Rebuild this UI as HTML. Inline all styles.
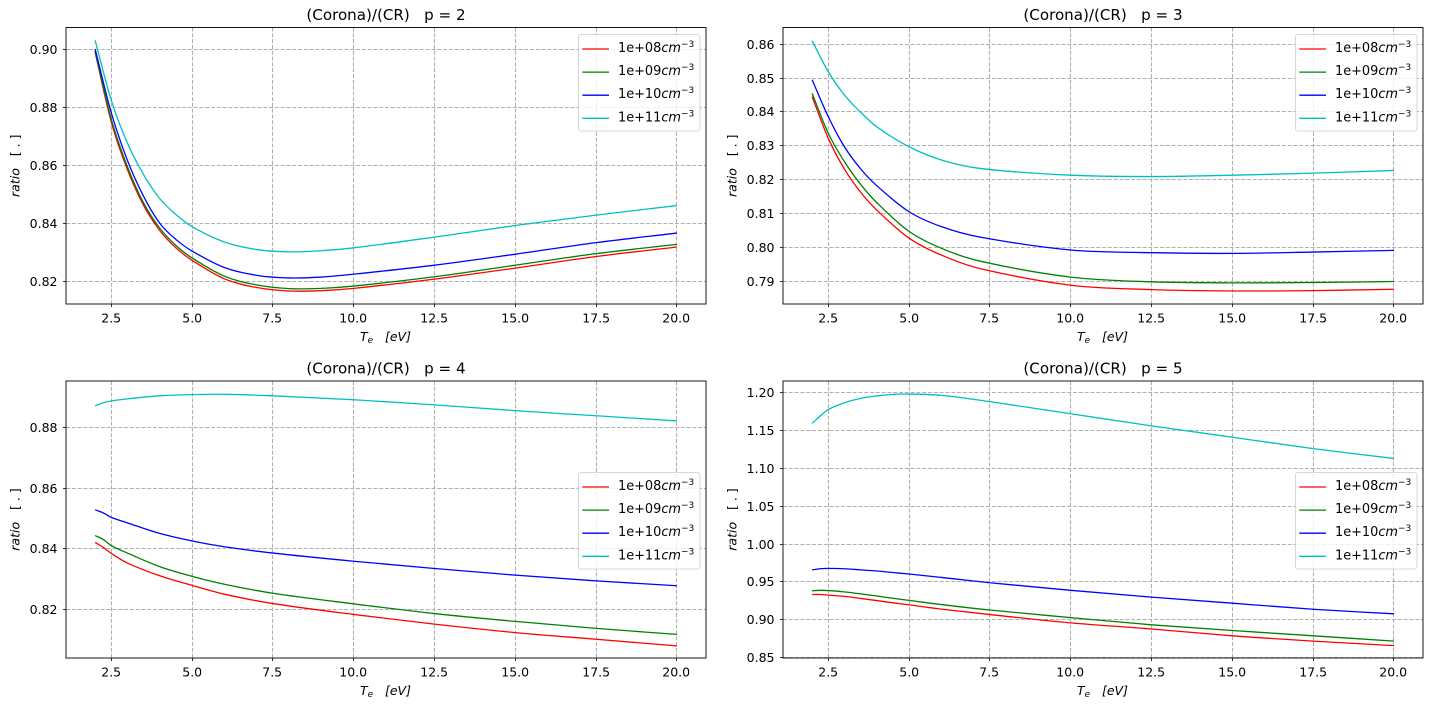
<!DOCTYPE html>
<html>
<head>
<meta charset="utf-8">
<title>(Corona)/(CR) ratio</title>
<style>
html,body{margin:0;padding:0;background:#fff;}
svg{display:block;font-family:"DejaVu Sans","Liberation Sans",sans-serif;}
svg text{white-space:pre;}
</style>
</head>
<body>
<svg id="figure" width="1435" height="709" viewBox="0 0 1435 709" xmlns="http://www.w3.org/2000/svg"></svg>
<script>
const xTicks = [2.5, 5, 7.5, 10, 12.5, 15, 17.5, 20];
const densityLabels = ['1e+08', '1e+09', '1e+10', '1e+11'];
const seriesNames = ['red', 'green', 'blue', 'cyan'];

const p2Te = [2, 2.5, 3, 3.5, 4, 4.5, 5, 6, 7, 8, 9, 10, 12.5, 15, 17.5, 20];
const p2Red = [0.899, 0.875, 0.8585, 0.8462, 0.8375, 0.8315, 0.8272, 0.8208, 0.8178, 0.8166, 0.8167, 0.8175, 0.8207, 0.8245, 0.8285, 0.8318];
const p2Green = [0.8995, 0.876, 0.8595, 0.847, 0.8383, 0.8323, 0.828, 0.8217, 0.8187, 0.8174, 0.8175, 0.8183, 0.8215, 0.8255, 0.8295, 0.8327];
const p2Blue = [0.9002, 0.8782, 0.8617, 0.8493, 0.84, 0.8344, 0.8304, 0.8247, 0.822, 0.8211, 0.8214, 0.8224, 0.8255, 0.8293, 0.8333, 0.8366];
const p2Cyan = [0.9032, 0.8825, 0.8677, 0.8568, 0.8485, 0.843, 0.8388, 0.8335, 0.8309, 0.8301, 0.8305, 0.8315, 0.8352, 0.8392, 0.8428, 0.8461];
const p2Ticks = [0.82, 0.84, 0.86, 0.88, 0.9];

const p3Te = [2, 2.5, 3, 3.5, 4, 5, 6, 7.2, 10, 12.5, 15, 17.5, 20];
const p3Red = [0.8445, 0.8322, 0.8231, 0.8163, 0.811, 0.8027, 0.7977, 0.7937, 0.7888, 0.7875, 0.7871, 0.7872, 0.7876];
const p3Green = [0.8455, 0.8337, 0.8253, 0.8186, 0.8132, 0.8047, 0.7997, 0.7959, 0.7912, 0.7898, 0.7895, 0.7896, 0.7899];
const p3Blue = [0.8495, 0.8386, 0.8297, 0.8232, 0.8182, 0.8105, 0.8061, 0.803, 0.7992, 0.7984, 0.7982, 0.7986, 0.7991];
const p3Cyan = [0.861, 0.8519, 0.845, 0.8399, 0.8356, 0.8297, 0.8258, 0.8233, 0.8213, 0.8209, 0.8213, 0.8219, 0.8227];
const p3Ticks = [0.79, 0.8, 0.81, 0.82, 0.83, 0.84, 0.85, 0.86];

const p4Te = [2, 2.25, 2.5, 3, 4, 5, 6, 7.5, 10, 12.5, 15, 17.5, 20];
const p4Red = [0.842, 0.8404, 0.8384, 0.8352, 0.831, 0.8278, 0.8249, 0.8218, 0.8182, 0.815, 0.8122, 0.81, 0.8078];
const p4Green = [0.8443, 0.843, 0.841, 0.8385, 0.834, 0.8308, 0.8282, 0.8252, 0.8217, 0.8185, 0.8159, 0.8136, 0.8116];
const p4Blue = [0.8528, 0.8518, 0.8503, 0.8485, 0.845, 0.8425, 0.8406, 0.8385, 0.8358, 0.8334, 0.8312, 0.8293, 0.8277];
const p4Cyan = [0.8872, 0.8882, 0.8888, 0.8895, 0.8905, 0.8909, 0.891, 0.8905, 0.8892, 0.8875, 0.8856, 0.8839, 0.8822];
const p4Ticks = [0.82, 0.84, 0.86, 0.88];

const p5Te = [2, 2.25, 2.5, 3, 3.5, 4, 4.5, 5, 6, 7.5, 10, 12.5, 15, 17.5, 20];
const p5Red = [0.9335, 0.9335, 0.9327, 0.931, 0.9283, 0.9255, 0.9225, 0.9198, 0.9142, 0.907, 0.896, 0.888, 0.879, 0.872, 0.866];
const p5Green = [0.9385, 0.939, 0.9387, 0.937, 0.9343, 0.9315, 0.9285, 0.9257, 0.9202, 0.913, 0.903, 0.8935, 0.886, 0.879, 0.872];
const p5Blue = [0.966, 0.9675, 0.968, 0.9675, 0.966, 0.9645, 0.9625, 0.9605, 0.956, 0.949, 0.939, 0.93, 0.922, 0.914, 0.908];
const p5Cyan = [1.1593, 1.169, 1.1775, 1.1865, 1.1923, 1.1955, 1.1975, 1.198, 1.1962, 1.188, 1.172, 1.156, 1.141, 1.126, 1.113];
const p5Ticks = [0.85, 0.9, 0.95, 1.0, 1.05, 1.1, 1.15, 1.2];

const xDomain = [1.1, 20.9];
const colors = ['#ff0000', '#008000', '#0000ff', '#00bfbf'];

const panels = [
  {p: 2, left: 66, top: 27.5, bottom: 304, te: p2Te, series: [p2Red, p2Green, p2Blue, p2Cyan], ticks: p2Ticks, dom: [0.8121, 0.9076], legendTop: 34, digits: 2},
  {p: 3, left: 783, top: 27.5, bottom: 304, te: p3Te, series: [p3Red, p3Green, p3Blue, p3Cyan], ticks: p3Ticks, dom: [0.78325, 0.86493], legendTop: 34, digits: 2},
  {p: 4, left: 66, top: 381, bottom: 658, te: p4Te, series: [p4Red, p4Green, p4Blue, p4Cyan], ticks: p4Ticks, dom: [0.8038, 0.8954], legendTop: 472, digits: 2},
  {p: 5, left: 783, top: 381, bottom: 658, te: p5Te, series: [p5Red, p5Green, p5Blue, p5Cyan], ticks: p5Ticks, dom: [0.8497, 1.2152], legendTop: 472, digits: 2}
];

const NS = 'http://www.w3.org/2000/svg';
const svg = document.getElementById('figure');
const W = 640;
const TICK_FONT = 12.5;

function mk(parent, tag, attrs, text) {
  const e = document.createElementNS(NS, tag);
  for (const k in attrs) e.setAttribute(k, attrs[k]);
  if (text !== undefined) e.textContent = text;
  parent.appendChild(e);
  return e;
}

function smooth(pts) {
  let d = 'M' + pts[0][0].toFixed(2) + ' ' + pts[0][1].toFixed(2);
  for (let i = 0; i < pts.length - 1; i++) {
    const p0 = pts[Math.max(i - 1, 0)], p1 = pts[i], p2 = pts[i + 1], p3 = pts[Math.min(i + 2, pts.length - 1)];
    const h = p2[0] - p1[0];
    const s0 = (p2[1] - p0[1]) / ((p2[0] - p0[0]) || 1);
    const s1 = (p3[1] - p1[1]) / ((p3[0] - p1[0]) || 1);
    d += 'C' + (p1[0] + h / 3).toFixed(2) + ' ' + (p1[1] + s0 * h / 3).toFixed(2) + ' ' +
         (p2[0] - h / 3).toFixed(2) + ' ' + (p2[1] - s1 * h / 3).toFixed(2) + ' ' +
         p2[0].toFixed(2) + ' ' + p2[1].toFixed(2);
  }
  return d;
}

panels.forEach(function (P) {
  const g = mk(svg, 'g', {});
  
  
  const xS = function (v) { return P.left + (v - xDomain[0]) / (xDomain[1] - xDomain[0]) * W; };
  const yS = function (v) { return P.bottom - (v - P.dom[0]) / (P.dom[1] - P.dom[0]) * (P.bottom - P.top); };

  // grid
  xTicks.forEach(function (t) {
    const x = Math.floor(xS(t)) + 0.5;
    const l = mk(g, 'line', {x1: x, x2: x, y1: P.top, y2: P.bottom, stroke: '#b0b0b0', 'stroke-width': 1.1, 'stroke-dasharray': '4 1.8'});
    
    
    const tk = mk(g, 'line', {x1: x, x2: x, y1: P.bottom, y2: P.bottom + 3, stroke: '#000', 'stroke-width': 0.8});
    
    
    const lb = mk(g, 'text', {x: x - 0.3, y: P.bottom + 18.5, 'font-size': TICK_FONT, 'text-anchor': 'middle', fill: '#000'}, t.toFixed(1));
    
    
  });
  P.ticks.forEach(function (t) {
    const y = Math.floor(yS(t)) + 0.5;
    const l = mk(g, 'line', {x1: P.left, x2: P.left + W, y1: y, y2: y, stroke: '#b0b0b0', 'stroke-width': 1.1, 'stroke-dasharray': '4 1.8'});
    
    
    const tk = mk(g, 'line', {x1: P.left - 3, x2: P.left, y1: y, y2: y, stroke: '#000', 'stroke-width': 0.8});
    
    
    const lb = mk(g, 'text', {x: P.left - 8.5, y: y + 4.5, 'font-size': TICK_FONT, 'text-anchor': 'end', fill: '#000'}, t.toFixed(P.digits));
    
    
  });

  // series
  P.series.forEach(function (vals, i) {
    const pts = vals.map(function (v, j) { return [xS(P.te[j]), yS(v)]; });
    const path = mk(g, 'path', {d: smooth(pts), fill: 'none', stroke: colors[i], 'stroke-width': 1.3});
    
    
  });

  // frame
  const fr = mk(g, 'rect', {x: P.left, y: P.top, width: W, height: P.bottom - P.top, fill: 'none', stroke: '#000', 'stroke-width': 0.9});
  
  

  // title
  const ti = mk(g, 'text', {x: P.left + W / 2, y: P.top - 7.5, 'font-size': 15.1, 'text-anchor': 'middle', fill: '#000'}, '(Corona)/(CR)   p = ' + P.p);
  
  

  // x label
  const xl = mk(g, 'text', {x: P.left + W / 2 - 0.5, y: P.bottom + 37, 'font-size': TICK_FONT, 'text-anchor': 'middle', fill: '#000'});
  
  
  mk(xl, 'tspan', {'font-style': 'italic'}, 'T');
  mk(xl, 'tspan', {'font-style': 'italic', 'font-size': 8.8, dy: 2}, 'e');
  mk(xl, 'tspan', {dy: -2}, '   ');
  mk(xl, 'tspan', {'font-style': 'italic'}, '[eV]');

  // y label
  const cy = (P.top + P.bottom) / 2;
  const yl = mk(g, 'text', {transform: 'translate(' + (P.left - 46.5) + ' ' + cy + ') rotate(-90)', 'font-size': TICK_FONT, 'text-anchor': 'middle', fill: '#000'});
  
  
  mk(yl, 'tspan', {'font-style': 'italic'}, 'ratio');
  mk(yl, 'tspan', {}, '   [ . ]');

  // legend
  const lg = mk(g, 'g', {});
  
  
  const lx = P.left + W - 128;
  const box = mk(lg, 'rect', {x: lx + 0.5, y: P.legendTop + 0.5, width: 121.5, height: 96.5, rx: 2.5, fill: '#fff', 'fill-opacity': 0.8, stroke: '#cccccc', 'stroke-width': 0.8});
  
  
  densityLabels.forEach(function (lab, i) {
    const y = P.legendTop + 15 + i * 23.1;
    const e = mk(lg, 'g', {});
    
    
    const sw = mk(e, 'line', {x1: lx + 4.3, x2: lx + 31, y1: y, y2: y, stroke: colors[i], 'stroke-width': 1.3});
    
    
    const t = mk(e, 'text', {x: lx + 40, y: y + 3, 'font-size': 12.9, fill: '#000'});
    
    
    mk(t, 'tspan', {}, lab);
    mk(t, 'tspan', {'font-style': 'italic'}, 'cm');
    mk(t, 'tspan', {'font-size': 9, dy: -5}, '\u22123');
  });
});
</script>
</body>
</html>
